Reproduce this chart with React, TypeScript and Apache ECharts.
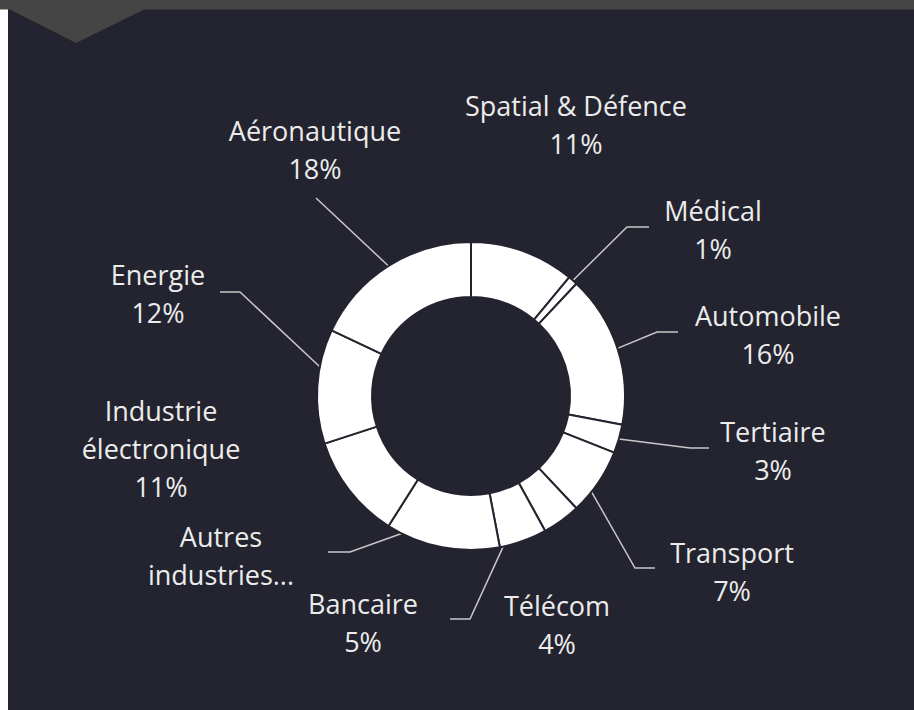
import React, { useEffect, useRef } from "react";
import * as echarts from "echarts";

// ---- data ----
const categories = [
  "Spatial & Défence",
  "Médical",
  "Automobile",
  "Tertiaire",
  "Transport",
  "Télécom",
  "Bancaire",
  "Autres industries",
  "Industrie électronique",
  "Energie",
  "Aéronautique",
];
const shares = [11, 1, 16, 3, 7, 4, 5, 12, 11, 12, 18];
const labelTexts = [
  "Spatial & Défence",
  "Médical",
  "Automobile",
  "Tertiaire",
  "Transport",
  "Télécom",
  "Bancaire",
  "Autres\nindustries...",
  "Industrie\nélectronique",
  "Energie",
  "Aéronautique",
];
const showPercent = [true, true, true, true, true, true, true, false, true, true, true];

// ---- layout (positions, not data) ----
const CX = 471;
const CY = 396;
const R_IN = 99;
const R_OUT = 154;
const labelCenters: number[][] = [
  [576, 124], [713, 229], [768, 334], [773, 450], [732, 571], [557, 624],
  [363, 622], [221, 555], [161, 448], [158, 293], [315, 149],
];
const lineEnds: (number[] | null)[] = [
  null, [649, 227], [678, 332], [709, 448], [655, 568], null,
  [450, 619], [328, 552], null, [220, 292], [316, 198],
];
const elbowDx = [0, -22, -21, -19, -20, 0, 20, 22, 0, 20, 0];
const attachFrac = [0.5, 0.5, 0.5, 0.5, 0.67, 0.5, 0.93, 0.87, 0.5, 0.67, 0.5];

const BG = "#23242f";
const TEXT = "#ececec";

export default function App() {
  const ref = useRef<HTMLDivElement>(null);
  useEffect(() => {
    if (!ref.current) return;
    const chart = echarts.init(ref.current, undefined, { renderer: "svg" });
    const total = shares.reduce((a, b) => a + b, 0);
    const startAngles: number[] = [];
    let acc = 0;
    shares.forEach((v) => {
      startAngles.push((acc / total) * 360);
      acc += v;
    });
    const attachPoint = (i: number) => {
      const a = startAngles[i] + (shares[i] / total) * 360 * attachFrac[i];
      const rad = (a * Math.PI) / 180;
      return [CX + R_OUT * Math.sin(rad), CY - R_OUT * Math.cos(rad)];
    };
    chart.setOption({
      animation: false,
      backgroundColor: BG,
      graphic: [
        { type: "rect", shape: { x: 0, y: 0, width: 8, height: 710 }, style: { fill: "#ffffff" } },
        { type: "rect", shape: { x: 0, y: 0, width: 914, height: 9.5 }, style: { fill: "#454545" } },
        {
          type: "polygon",
          shape: { points: [[9, 9], [145, 9], [76, 43]] },
          style: { fill: "#454545" },
        },
      ],
      series: [
        {
          type: "pie",
          center: [CX, CY],
          radius: [R_IN, R_OUT],
          startAngle: 90,
          clockwise: true,
          avoidLabelOverlap: false,
          silent: true,
          itemStyle: { color: "#ffffff", borderColor: BG, borderWidth: 2 },
          label: {
            show: true,
            position: "outside",
            color: TEXT,
            fontFamily: "Open Sans",
            fontSize: 27,
            lineHeight: 38,
            align: "center",
            formatter: (p: any) =>
              showPercent[p.dataIndex]
                ? `${labelTexts[p.dataIndex]}\n${p.value}%`
                : labelTexts[p.dataIndex],
          },
          labelLine: {
            show: true,
            length: 10,
            length2: 10,
            lineStyle: { color: "#c8c8c8", width: 1.5 },
          },
          labelLayout: (params: any) => {
            const i = params.dataIndex;
            const c = labelCenters[i];
            const res: any = { x: c[0], y: c[1], align: "center", verticalAlign: "middle" };
            const end = lineEnds[i];
            if (end) {
              const s = attachPoint(i);
              res.labelLinePoints = [s, [end[0] + elbowDx[i], end[1]], end];
            }
            return res;
          },
          data: categories.map((name, i) => ({
            name,
            value: shares[i],
            labelLine: { show: !!lineEnds[i] },
          })),
        },
      ],
    });
    return () => chart.dispose();
  }, []);
  return (
    <div
      ref={ref}
      style={{ position: "fixed", left: 0, top: 0, width: 914, height: 710 }}
    />
  );
}
